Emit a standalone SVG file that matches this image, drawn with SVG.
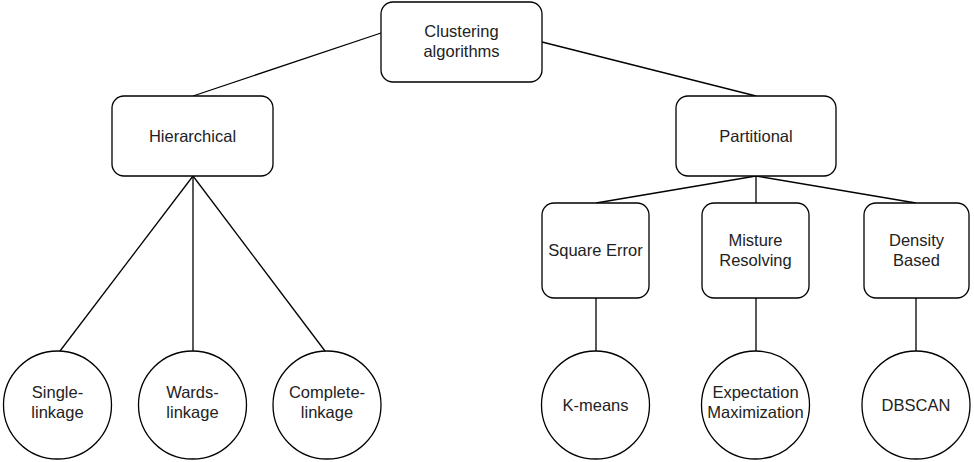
<svg xmlns="http://www.w3.org/2000/svg" width="974" height="462" viewBox="0 0 974 462">
<style>
.box{fill:#fff;stroke:#000;stroke-width:1.3}
.edge{fill:none;stroke:#000;stroke-width:1.3}
text{font-family:"Liberation Sans",Arial,sans-serif;font-size:16.5px;fill:#222;text-anchor:middle}
</style>
<rect width="974" height="462" fill="#fff"/>
<g id="connectors">
<line class="edge" x1="381" y1="33" x2="193" y2="96"/>
<line class="edge" x1="542" y1="42" x2="756" y2="96"/>
<line class="edge" x1="193" y1="176" x2="60" y2="351"/>
<line class="edge" x1="193" y1="176" x2="193" y2="351"/>
<line class="edge" x1="193" y1="176" x2="325" y2="351"/>
<line class="edge" x1="756" y1="176" x2="596" y2="203"/>
<line class="edge" x1="756" y1="176" x2="756" y2="203"/>
<line class="edge" x1="756" y1="176" x2="916" y2="203"/>
<line class="edge" x1="596" y1="298" x2="596" y2="351"/>
<line class="edge" x1="756" y1="298" x2="756" y2="351"/>
<line class="edge" x1="916" y1="298" x2="916" y2="351"/>
</g>
<g id="root"><rect class="box" x="381" y="2" width="161" height="80" rx="12"/><text x="461.5" y="37">Clustering</text><text x="461.5" y="57">algorithms</text></g>
<g id="hierarchical"><rect class="box" x="112" y="96" width="161" height="80" rx="12"/><text x="192.5" y="142">Hierarchical</text></g>
<g id="partitional"><rect class="box" x="676" y="96" width="160" height="80" rx="12"/><text x="756" y="142">Partitional</text></g>
<g id="square-error"><rect class="box" x="542" y="203" width="107" height="95" rx="12"/><text x="595.5" y="256">Square Error</text></g>
<g id="misture"><rect class="box" x="702" y="203" width="107" height="95" rx="12"/><text x="755.5" y="246">Misture</text><text x="755.5" y="266">Resolving</text></g>
<g id="density"><rect class="box" x="864" y="203" width="105" height="95" rx="12"/><text x="916.5" y="246">Density</text><text x="916.5" y="266">Based</text></g>
<g id="single"><ellipse class="box" cx="57.5" cy="405" rx="54" ry="54"/><text x="57.5" y="398">Single-</text><text x="57.5" y="418">linkage</text></g>
<g id="wards"><ellipse class="box" cx="192.5" cy="405" rx="54" ry="54"/><text x="192.5" y="398">Wards-</text><text x="192.5" y="418">linkage</text></g>
<g id="complete"><ellipse class="box" cx="327" cy="405" rx="54" ry="54"/><text x="327" y="398">Complete-</text><text x="327" y="418">linkage</text></g>
<g id="kmeans"><ellipse class="box" cx="595.5" cy="405" rx="54" ry="54"/><text x="595.5" y="411">K-means</text></g>
<g id="em"><ellipse class="box" cx="755.5" cy="405" rx="54" ry="54"/><text x="755.5" y="398">Expectation</text><text x="755.5" y="418">Maximization</text></g>
<g id="dbscan"><ellipse class="box" cx="916" cy="405" rx="54" ry="54"/><text x="916" y="411">DBSCAN</text></g>
</svg>
